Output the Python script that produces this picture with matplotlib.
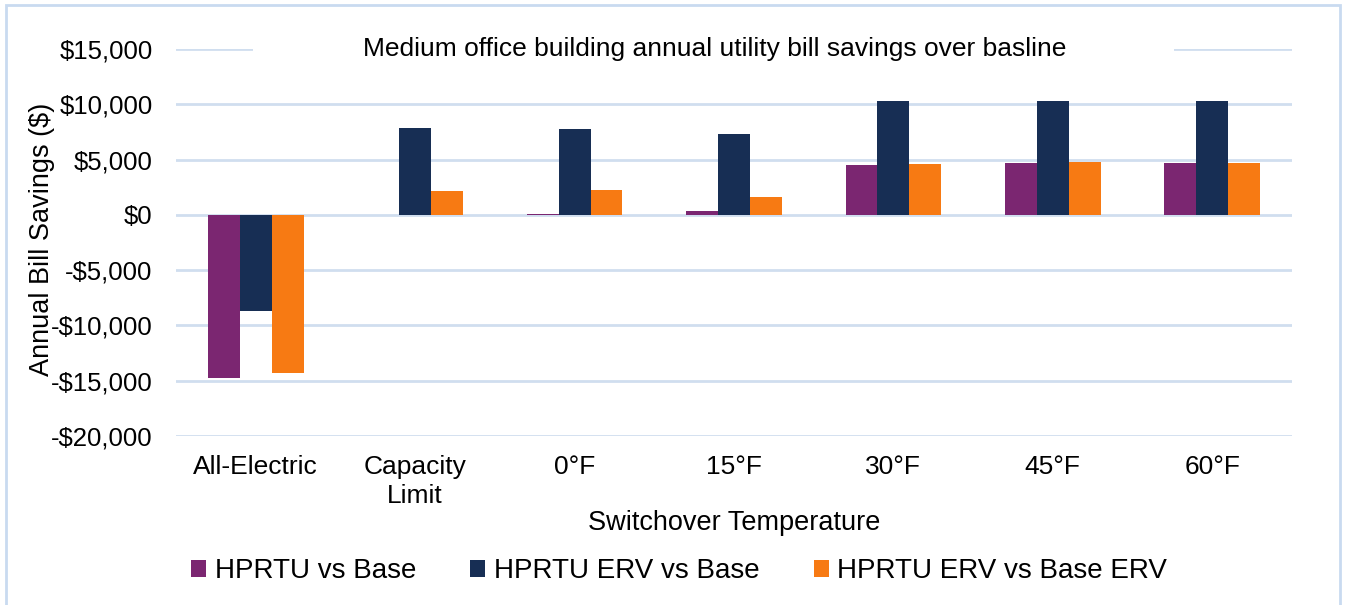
import matplotlib.pyplot as plt
import matplotlib.patches as patches
import numpy as np

plt.rcParams['font.family'] = ['Liberation Sans', 'DejaVu Sans']

categories = ['All-Electric', 'Capacity\nLimit', '0°F', '15°F', '30°F', '45°F', '60°F']
hprtu_vs_base = [-14760, 0, 50, 330, 4480, 4690, 4660]
hprtu_erv_vs_base = [-8680, 7830, 7810, 7270, 10280, 10330, 10330]
hprtu_erv_vs_base_erv = [-14340, 2150, 2220, 1590, 4630, 4750, 4690]

series = [
    ('HPRTU vs Base', hprtu_vs_base, '#7B2671'),
    ('HPRTU ERV vs Base', hprtu_erv_vs_base, '#172E54'),
    ('HPRTU ERV vs Base ERV', hprtu_erv_vs_base_erv, '#F77A13'),
]

fig = plt.figure(figsize=(13.46, 6.05), dpi=100)
ax = fig.add_axes([0.1308, 0.2793, 0.9598 - 0.1308, 0.919 - 0.2793])

x = np.arange(len(categories))
w = 0.2
for i, (name, vals, color) in enumerate(series):
    ax.bar(x + (i - 1) * w, vals, w, color=color, label=name, zorder=3)

ax.set_xlim(-0.5, len(categories) - 0.5)
ax.set_ylim(-20000, 15000)
yt = np.arange(-20000, 15001, 5000)
ax.set_yticks(yt)
ax.set_yticklabels([f'${v:,}' if v >= 0 else f'-${-v:,}' for v in yt])
ax.set_xticks(x)
ax.set_xticklabels(categories, linespacing=1.25)
ax.tick_params(axis='both', length=0, colors='black')
ax.tick_params(axis='x', pad=14, labelsize=19)
ax.tick_params(axis='y', pad=17, labelsize=18.5)
ax.grid(axis='y', color='#D0DEEF', linewidth=2, zorder=0)
for s in ax.spines.values():
    s.set_visible(False)

ax.set_ylabel('Annual Bill Savings ($)', fontsize=19.5, va='center')
ax.yaxis.set_label_coords(-0.1205, 0.508)
ax.set_xlabel('Switchover Temperature', fontsize=19.5, va='center')
ax.xaxis.set_label_coords(0.5, -0.225)

# white box behind the title, cutting the top gridline
ax.add_patch(patches.Rectangle((0.069, 0.96), 0.825, 0.08, transform=ax.transAxes,
                               facecolor='white', edgecolor='none', zorder=4, clip_on=False))
ax.text(0.483, 1.0, 'Medium office building annual utility bill savings over basline',
        transform=ax.transAxes, ha='center', va='center', fontsize=19, zorder=5)

fig.legend(*ax.get_legend_handles_labels(), loc='center left',
           bbox_to_anchor=(191 / 1346, 1 - 571 / 605), ncol=3, frameon=False,
           fontsize=20, handlelength=0.55, handleheight=0.55, handletextpad=0.3,
           columnspacing=1.95, borderaxespad=0, borderpad=0)

fig.patches.append(patches.Rectangle((6 / 1346, -0.05), 1334 / 1346, 1.0 - 5 / 605 + 0.05,
                                     transform=fig.transFigure, fill=False,
                                     edgecolor='#C9DAF0', linewidth=2))

fig.savefig('out.png', dpi=100)
